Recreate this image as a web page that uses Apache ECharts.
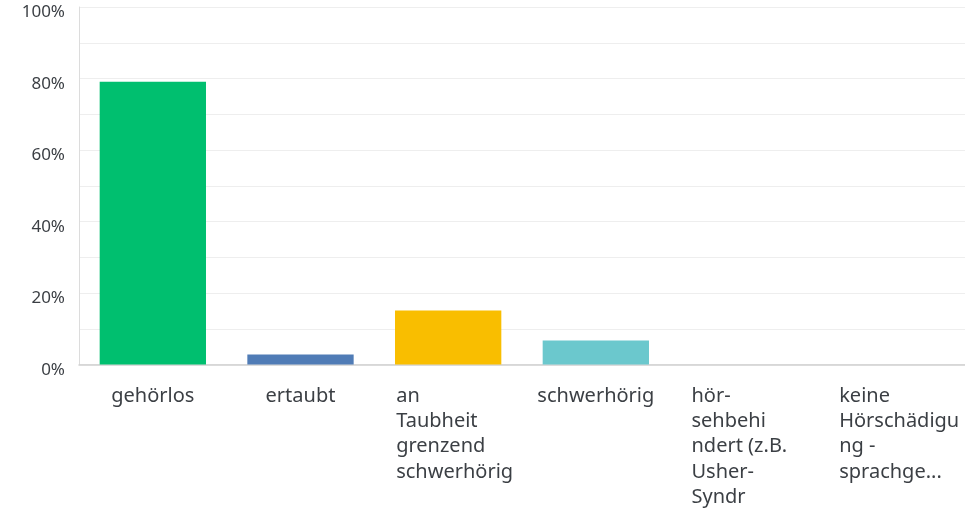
<!DOCTYPE html>
<html>
<head>
<meta charset="utf-8">
<script src="https://cdn.jsdelivr.net/npm/echarts@6/dist/echarts.min.js"></script>
<style>
html,body{margin:0;padding:0;background:#fff;}
#c{width:965px;height:510px;}
</style>
</head>
<body>
<div id="c"></div>
<script>
const categories = ["gehörlos", "ertaubt", "an Taubheit grenzend schwerhörig", "schwerhörig", "hör-sehbehindert (z.B. Usher-Syndrom)", "keine Hörschädigung - sprachgesteuert"];
const tickLabels = ["gehörlos", "ertaubt", "an\nTaubheit\ngrenzend\nschwerhörig", "schwerhörig", "hör-\nsehbehi\nndert (z.B.\nUsher-\nSyndr", "keine\nHörschädigu\nng -\nsprachge..."];
const values = [79.1, 2.8, 15.1, 6.7, 0, 0];
const colors = ["#00BF6F", "#507CB6", "#F9BE00", "#6BC8CD", "#00BF6F", "#507CB6"];
const yTicks = [0, 20, 40, 60, 80, 100];

const chart = echarts.init(document.getElementById('c'));
const fontFamily = "'Noto Sans', sans-serif";
const txt = '#3b3f44';
chart.setOption({
  animation: false,
  grid: {left: 79, top: 7, width: 894, height: 358, containLabel: false},
  xAxis: {
    type: 'category',
    data: categories,
    axisLine: {show: true, lineStyle: {color: '#cfcfcf', width: 1.5}},
    axisTick: {show: false},
    axisLabel: {
      interval: 0,
      margin: 19,
      color: txt,
      fontSize: 20,
      fontFamily: fontFamily,
      lineHeight: 25.3,
      formatter: function (v, i) {
        const t = tickLabels[i];
        if (t.indexOf('\n') < 0) return t;
        return t.split('\n').map(s => '{l|' + s + '}').join('\n');
      },
      rich: {l: {width: 104, align: 'left', fontSize: 20, lineHeight: 25.3, color: txt, fontFamily: fontFamily}}
    }
  },
  yAxis: {
    type: 'value',
    min: 0, max: 100, interval: 10,
    axisLine: {show: true, lineStyle: {color: '#dcdcdc'}},
    axisTick: {show: false},
    splitLine: {show: true, lineStyle: {color: '#eeeeee'}},
    axisLabel: {
      margin: 14,
      color: txt,
      fontSize: 17,
      fontFamily: fontFamily,
      verticalAlign: 'top',
      padding: [-3, 0, 0, 0],
      formatter: function (v) { return yTicks.indexOf(v) >= 0 ? v + '%' : ''; }
    }
  },
  series: [{
    type: 'bar',
    data: values.map((v, i) => ({value: v, itemStyle: {color: colors[i]}})),
    barCategoryGap: '28%'
  }]
});
</script>
</body>
</html>
